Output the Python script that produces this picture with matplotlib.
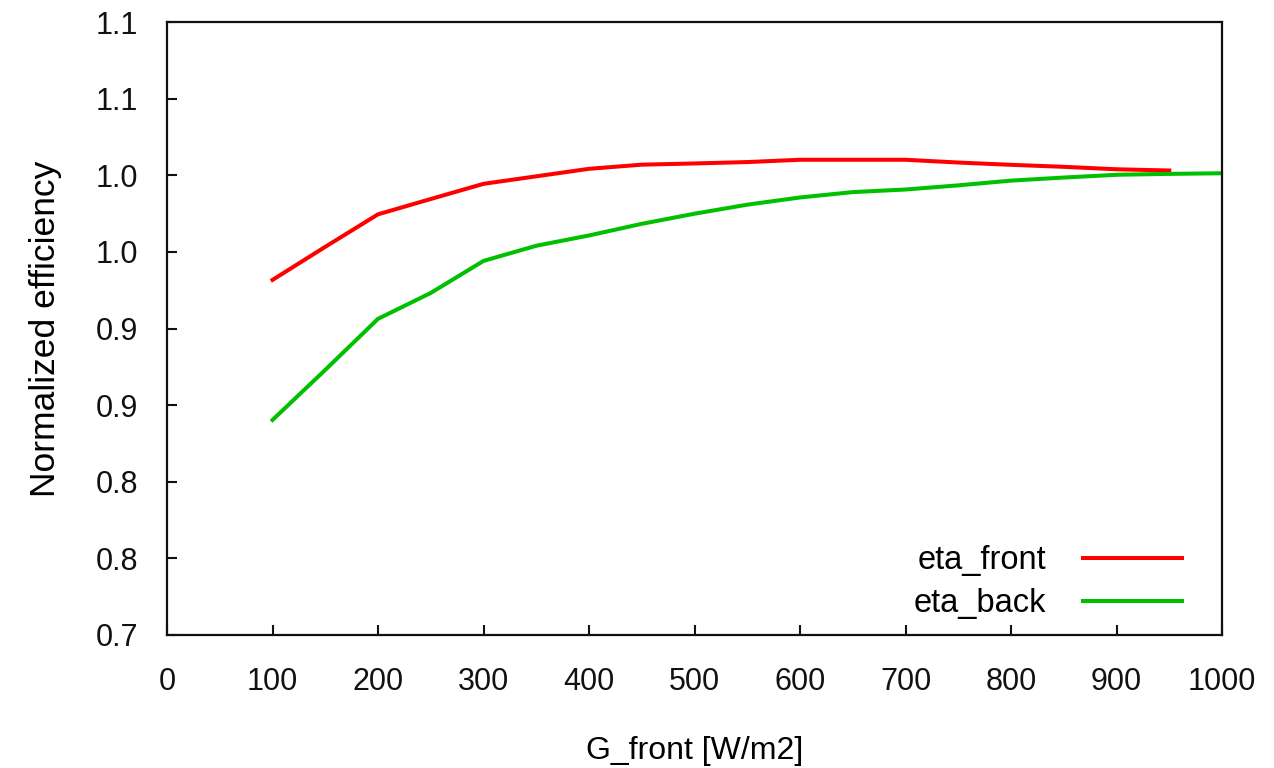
import numpy as np
import matplotlib
matplotlib.use("Agg")
import matplotlib.pyplot as plt

# irradiance on the front side [W/m2]
g_front = [100, 150, 200, 250, 300, 350, 400, 450, 500, 550,
           600, 650, 700, 750, 800, 850, 900, 950]
g_back = g_front + [1000]

# normalized efficiencies
eta_front = [0.9317, 0.9533, 0.9745, 0.9845, 0.9944, 0.9993, 1.0042, 1.0069, 1.0077, 1.0086,
             1.0101, 1.0101, 1.0101, 1.0083, 1.0068, 1.0055, 1.0039, 1.0031]
eta_back = [0.8403, 0.8730, 0.9063, 0.9232, 0.9441, 0.9540, 0.9607, 0.9683, 0.9749, 0.9808,
            0.9855, 0.9890, 0.9907, 0.9934, 0.9965, 0.9985, 1.0003, 1.0009, 1.0013]

x_ticks = [0, 100, 200, 300, 400, 500, 600, 700, 800, 900, 1000]
y_ticks = [0.70, 0.75, 0.80, 0.85, 0.90, 0.95, 1.00, 1.05, 1.10]
y_tick_labels = ['0.7', '0.8', '0.8', '0.9', '0.9', '1.0', '1.0', '1.1', '1.1']

plt.rcParams['font.family'] = ['Liberation Sans', 'DejaVu Sans']
fs_tick = 22
fs_label = 23
fs_key = 23.5

fig = plt.figure(figsize=(12.74, 7.68), dpi=100)
ax = fig.add_axes([167 / 1274, 1 - 635 / 768, (1222 - 167) / 1274, (635 - 22) / 768])

ax.plot(g_front, eta_front, color='#ff0000', linewidth=2.9, label='eta_front')
ax.plot(g_back, eta_back, color='#00c000', linewidth=2.9, label='eta_back')

ax.set_xlim(0, 1000)
ax.set_ylim(0.70, 1.10)
ax.set_xticks(x_ticks)
ax.set_yticks(y_ticks)
ax.set_yticklabels(y_tick_labels)

for s in ax.spines.values():
    s.set_linewidth(1.6)
    s.set_color('#111111')
ax.tick_params(direction='in', length=7, width=1.5, labelsize=fs_tick,
               top=False, right=False, colors='#111111')
ax.tick_params(axis='x', pad=23)
ax.tick_params(axis='y', pad=21)

ax.set_xlabel('G_front [W/m2]', fontsize=fs_label, labelpad=28)
ax.set_ylabel('Normalized efficiency', fontsize=25.5, labelpad=24)

ax.legend(loc='lower right', bbox_to_anchor=(0.962, 0.026), frameon=False,
          markerfirst=False, fontsize=fs_key, handlelength=3.04, handletextpad=1.13,
          labelspacing=0.37, borderpad=0, borderaxespad=0)

fig.savefig('out.png', dpi=100)
